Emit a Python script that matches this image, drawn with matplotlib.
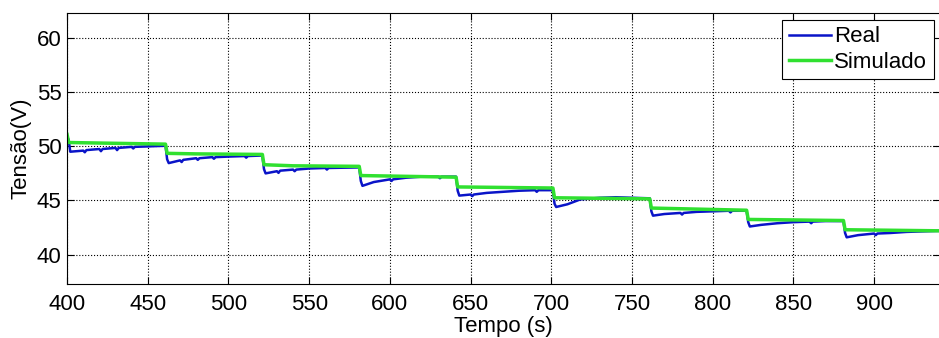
import matplotlib.pyplot as plt

t_real = [400, 401, 402, 410, 411, 412, 420, 421, 422, 430, 431, 432, 440, 441, 442,
          452, 461, 462, 463, 470, 471, 472, 480, 481, 482, 490, 491, 492, 500, 510,
          511, 512, 521, 522, 523, 530, 531, 532, 540, 541, 542, 550, 560, 561, 562,
          581, 582, 583, 590, 600, 601, 602, 610, 620, 630, 631, 632, 641, 642, 643,
          650, 651, 652, 660, 670, 680, 690, 691, 692, 701, 702, 703, 710, 718, 730,
          740, 750, 761, 762, 763, 770, 780, 781, 782, 790, 800, 810, 811, 812, 821,
          822, 823, 830, 840, 850, 860, 861, 862, 870, 881, 882, 883, 890, 900, 901,
          902, 910, 920, 941]
v_real = [50.9, 50.6, 49.5, 49.6, 49.45, 49.65, 49.75, 49.55, 49.75, 49.85, 49.65, 49.85,
          49.95, 49.8, 49.95, 50.0, 50.05, 48.8, 48.45, 48.7, 48.55, 48.75, 48.9, 48.75,
          48.9, 49.0, 48.85, 49.0, 49.05, 49.1, 48.95, 49.1, 49.15, 47.9, 47.5, 47.7,
          47.55, 47.75, 47.85, 47.7, 47.85, 47.95, 48.0, 47.85, 48.0, 48.05, 46.8, 46.35,
          46.7, 46.95, 46.8, 46.95, 47.1, 47.2, 47.2, 47.05, 47.2, 47.2, 45.9, 45.45,
          45.55, 45.4, 45.55, 45.7, 45.8, 45.9, 45.95, 45.8, 45.95, 45.95, 44.7, 44.4,
          44.65, 45.1, 45.25, 45.3, 45.25, 45.2, 44.0, 43.6, 43.75, 43.85, 43.7, 43.85,
          43.95, 44.0, 44.05, 43.9, 44.05, 44.05, 43.0, 42.6, 42.75, 42.9, 43.0, 43.05,
          42.9, 43.05, 43.1, 43.1, 42.0, 41.6, 41.8, 41.95, 41.8, 41.95, 42.0, 42.1, 42.2]

# simulated (Simulado)
t_sim = [400, 401, 420, 461, 462, 480, 521, 522, 540, 581, 582, 641, 642, 701, 702,
         761, 762, 821, 822, 881, 882, 941]
v_sim = [51.1, 50.35, 50.3, 50.2, 49.35, 49.3, 49.25, 48.3, 48.2, 48.15, 47.3, 47.15,
         46.25, 46.15, 45.25, 45.15, 44.3, 44.1, 43.25, 43.15, 42.3, 42.2]

plt.rcParams['font.family'] = ['Liberation Sans', 'DejaVu Sans']
fs = 16

fig = plt.figure(figsize=(9.39, 3.38), dpi=100)
ax = fig.add_axes([0.0714, 0.160, 0.93, 0.8015])

ax.plot(t_real, v_real, color='#0a14c8', lw=1.8, label='Real')
ax.plot(t_sim, v_sim, color='#30e030', lw=2.5, label='Simulado')

ax.set_xlim(400, 941)
ax.set_ylim(37.3, 62.3)
ax.set_xticks(range(400, 901, 50))
ax.set_yticks(range(40, 61, 5))
ax.grid(True, color='black', linestyle=':', linewidth=0.8)
ax.tick_params(direction='in', top=True, right=True, labelsize=fs, length=5)
ax.tick_params(axis='x', pad=7)
ax.tick_params(axis='y', pad=4)
for s in ax.spines.values():
    s.set_linewidth(0.8)

ax.set_xlabel('Tempo (s)', fontsize=fs, labelpad=1)
ax.set_ylabel('Tensão(V)', fontsize=fs, labelpad=4)

leg = ax.legend(loc='upper right', fontsize=fs, fancybox=False, framealpha=1,
                edgecolor='black', borderpad=0.3, handlelength=1.9, handletextpad=0.15,
                labelspacing=0.2, borderaxespad=0.3)
leg.get_frame().set_linewidth(0.8)

fig.savefig('out.png', dpi=100)
